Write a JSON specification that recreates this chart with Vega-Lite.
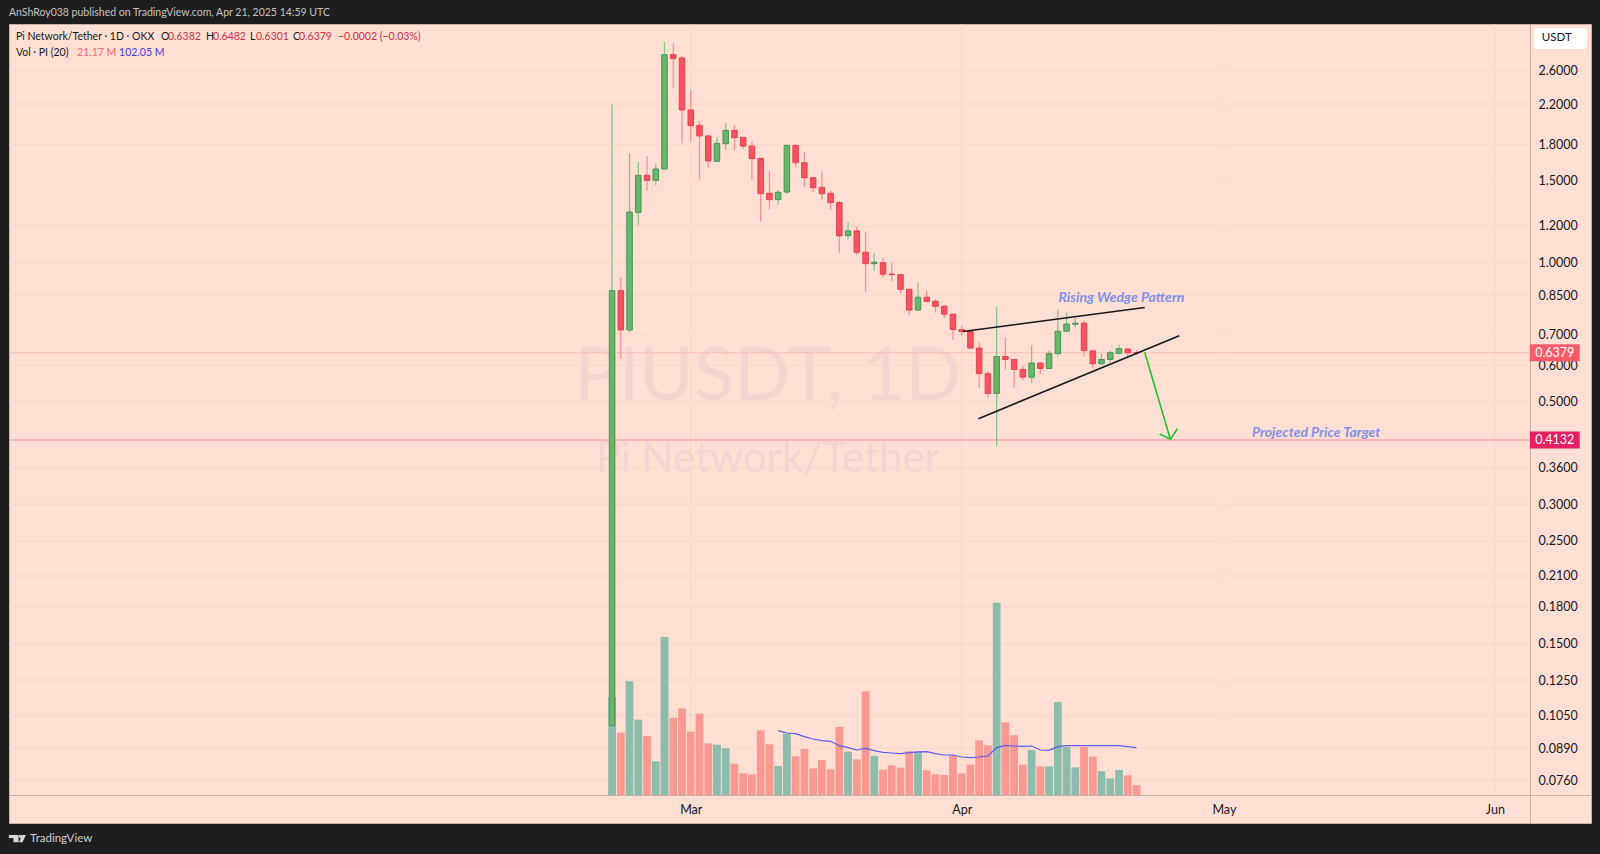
{
  "$schema": "https://vega.github.io/schema/vega-lite/v6.json",
  "description": "PIUSDT daily candles with volume, rising wedge and projected target",
  "autosize": "none",
  "padding": {"left": 9, "top": 24, "right": 9, "bottom": 31},
  "width": 1582,
  "height": 799,
  "background": "#1e1e1e",
  "config": {
    "font": "Lato",
    "view": {"fill": "#ffdfd3", "stroke": "#c9b0a5"}
  },
  "datasets": {
    "candles": [
      {"date": "2025-02-20", "open": 0.0997, "high": 2.201, "low": 0.0997, "close": 0.869, "vol": 211.4},
      {"date": "2025-02-21", "open": 0.869, "high": 0.929, "low": 0.619, "close": 0.7146, "vol": 134.5},
      {"date": "2025-02-22", "open": 0.7146, "high": 1.722, "low": 0.705, "close": 1.285, "vol": 245.2},
      {"date": "2025-02-23", "open": 1.283, "high": 1.649, "low": 1.205, "close": 1.543, "vol": 162.5},
      {"date": "2025-02-24", "open": 1.543, "high": 1.699, "low": 1.427, "close": 1.505, "vol": 127.3},
      {"date": "2025-02-25", "open": 1.505, "high": 1.63, "low": 1.468, "close": 1.592, "vol": 72.6},
      {"date": "2025-02-26", "open": 1.592, "high": 3.001, "low": 1.592, "close": 2.813, "vol": 340.8},
      {"date": "2025-02-27", "open": 2.813, "high": 2.976, "low": 2.379, "close": 2.758, "vol": 166.8},
      {"date": "2025-02-28", "open": 2.767, "high": 2.795, "low": 1.809, "close": 2.136, "vol": 186.9},
      {"date": "2025-03-01", "open": 2.136, "high": 2.356, "low": 1.827, "close": 1.975, "vol": 136.6},
      {"date": "2025-03-02", "open": 1.979, "high": 2.022, "low": 1.512, "close": 1.877, "vol": 175.4},
      {"date": "2025-03-03", "open": 1.877, "high": 1.883, "low": 1.603, "close": 1.657, "vol": 111.4},
      {"date": "2025-03-04", "open": 1.654, "high": 1.864, "low": 1.654, "close": 1.809, "vol": 108.6},
      {"date": "2025-03-05", "open": 1.806, "high": 2.002, "low": 1.753, "close": 1.93, "vol": 100.7},
      {"date": "2025-03-06", "open": 1.93, "high": 1.982, "low": 1.75, "close": 1.861, "vol": 67.6},
      {"date": "2025-03-07", "open": 1.864, "high": 1.864, "low": 1.759, "close": 1.785, "vol": 46.7},
      {"date": "2025-03-08", "open": 1.785, "high": 1.827, "low": 1.512, "close": 1.676, "vol": 44.6},
      {"date": "2025-03-09", "open": 1.679, "high": 1.679, "low": 1.229, "close": 1.408, "vol": 139.5},
      {"date": "2025-03-10", "open": 1.411, "high": 1.574, "low": 1.302, "close": 1.367, "vol": 109.3},
      {"date": "2025-03-11", "open": 1.367, "high": 1.434, "low": 1.333, "close": 1.418, "vol": 62.6, "ma": 138.8},
      {"date": "2025-03-12", "open": 1.42, "high": 1.791, "low": 1.406, "close": 1.791, "vol": 132.3, "ma": 133.7},
      {"date": "2025-03-13", "open": 1.791, "high": 1.791, "low": 1.603, "close": 1.643, "vol": 83.4, "ma": 132.3},
      {"date": "2025-03-14", "open": 1.643, "high": 1.73, "low": 1.458, "close": 1.525, "vol": 99.2, "ma": 125.8},
      {"date": "2025-03-15", "open": 1.525, "high": 1.525, "low": 1.42, "close": 1.451, "vol": 57.5, "ma": 120.8},
      {"date": "2025-03-16", "open": 1.453, "high": 1.574, "low": 1.367, "close": 1.408, "vol": 75.5, "ma": 117.2},
      {"date": "2025-03-17", "open": 1.411, "high": 1.43, "low": 1.302, "close": 1.347, "vol": 55.4, "ma": 115.8},
      {"date": "2025-03-18", "open": 1.347, "high": 1.356, "low": 1.05, "close": 1.141, "vol": 146.7, "ma": 106.4},
      {"date": "2025-03-19", "open": 1.143, "high": 1.221, "low": 1.122, "close": 1.17, "vol": 93.5, "ma": 102.1},
      {"date": "2025-03-20", "open": 1.17, "high": 1.195, "low": 1.038, "close": 1.052, "vol": 76.9, "ma": 97.1},
      {"date": "2025-03-21", "open": 1.052, "high": 1.166, "low": 0.861, "close": 0.994, "vol": 223.6, "ma": 100.7},
      {"date": "2025-03-22", "open": 0.994, "high": 1.047, "low": 0.959, "close": 1.001, "vol": 84.1, "ma": 95.6},
      {"date": "2025-03-23", "open": 0.999, "high": 1.021, "low": 0.927, "close": 0.943, "vol": 54.6, "ma": 92.0},
      {"date": "2025-03-24", "open": 0.944, "high": 1.0, "low": 0.909, "close": 0.941, "vol": 64.0, "ma": 90.6},
      {"date": "2025-03-25", "open": 0.941, "high": 0.944, "low": 0.855, "close": 0.875, "vol": 59.0, "ma": 89.2},
      {"date": "2025-03-26", "open": 0.875, "high": 0.876, "low": 0.77, "close": 0.789, "vol": 94.2, "ma": 91.3},
      {"date": "2025-03-27", "open": 0.789, "high": 0.906, "low": 0.787, "close": 0.841, "vol": 92.8, "ma": 92.8},
      {"date": "2025-03-28", "open": 0.841, "high": 0.869, "low": 0.819, "close": 0.824, "vol": 53.2, "ma": 93.5},
      {"date": "2025-03-29", "open": 0.824, "high": 0.833, "low": 0.779, "close": 0.804, "vol": 44.6, "ma": 89.2},
      {"date": "2025-03-30", "open": 0.804, "high": 0.808, "low": 0.758, "close": 0.773, "vol": 43.1, "ma": 86.3},
      {"date": "2025-03-31", "open": 0.773, "high": 0.774, "low": 0.68, "close": 0.716, "vol": 85.6, "ma": 86.3},
      {"date": "2025-04-01", "open": 0.716, "high": 0.73, "low": 0.694, "close": 0.709, "vol": 46.7, "ma": 82.0},
      {"date": "2025-04-02", "open": 0.709, "high": 0.715, "low": 0.651, "close": 0.653, "vol": 65.4, "ma": 80.5},
      {"date": "2025-04-03", "open": 0.653, "high": 0.672, "low": 0.535, "close": 0.575, "vol": 117.9, "ma": 82.0},
      {"date": "2025-04-04", "open": 0.575, "high": 0.582, "low": 0.51, "close": 0.521, "vol": 107.1, "ma": 84.1},
      {"date": "2025-04-05", "open": 0.521, "high": 0.8, "low": 0.4, "close": 0.626, "vol": 414.9, "ma": 102.1},
      {"date": "2025-04-06", "open": 0.626, "high": 0.689, "low": 0.586, "close": 0.617, "vol": 156.7, "ma": 107.1},
      {"date": "2025-04-07", "open": 0.617, "high": 0.617, "low": 0.536, "close": 0.587, "vol": 128.7, "ma": 105.7},
      {"date": "2025-04-08", "open": 0.587, "high": 0.597, "low": 0.555, "close": 0.565, "vol": 65.4, "ma": 105.0},
      {"date": "2025-04-09", "open": 0.565, "high": 0.662, "low": 0.548, "close": 0.606, "vol": 97.1, "ma": 105.7},
      {"date": "2025-04-10", "open": 0.606, "high": 0.61, "low": 0.574, "close": 0.59, "vol": 61.8, "ma": 97.1},
      {"date": "2025-04-11", "open": 0.59, "high": 0.645, "low": 0.588, "close": 0.635, "vol": 61.8, "ma": 96.3},
      {"date": "2025-04-12", "open": 0.635, "high": 0.789, "low": 0.626, "close": 0.71, "vol": 200.6, "ma": 104.3},
      {"date": "2025-04-13", "open": 0.71, "high": 0.779, "low": 0.709, "close": 0.736, "vol": 103.5, "ma": 106.4},
      {"date": "2025-04-14", "open": 0.735, "high": 0.758, "low": 0.724, "close": 0.739, "vol": 59.7, "ma": 106.4},
      {"date": "2025-04-15", "open": 0.739, "high": 0.749, "low": 0.626, "close": 0.645, "vol": 103.5, "ma": 106.4},
      {"date": "2025-04-16", "open": 0.644, "high": 0.645, "low": 0.59, "close": 0.604, "vol": 82.7, "ma": 106.4},
      {"date": "2025-04-17", "open": 0.604, "high": 0.635, "low": 0.602, "close": 0.617, "vol": 51.0, "ma": 106.4},
      {"date": "2025-04-18", "open": 0.617, "high": 0.645, "low": 0.607, "close": 0.638, "vol": 36.0, "ma": 106.4},
      {"date": "2025-04-19", "open": 0.636, "high": 0.664, "low": 0.634, "close": 0.651, "vol": 53.9, "ma": 106.4},
      {"date": "2025-04-20", "open": 0.65, "high": 0.653, "low": 0.628, "close": 0.638, "vol": 42.4, "ma": 104.3},
      {"date": "2025-04-21", "open": 0.6382, "high": 0.6482, "low": 0.6301, "close": 0.6379, "vol": 21.17, "ma": 102.05}
    ],
    "priceTicks": [
      {"tick": 2.6}, {"tick": 2.2}, {"tick": 1.8}, {"tick": 1.5}, {"tick": 1.2},
      {"tick": 1.0}, {"tick": 0.85}, {"tick": 0.7}, {"tick": 0.6}, {"tick": 0.5},
      {"tick": 0.36}, {"tick": 0.3}, {"tick": 0.25}, {"tick": 0.21}, {"tick": 0.18},
      {"tick": 0.15}, {"tick": 0.125}, {"tick": 0.105}, {"tick": 0.089}, {"tick": 0.076}
    ],
    "months": [
      {"date": "2025-03-01"}, {"date": "2025-04-01"}, {"date": "2025-05-01"}, {"date": "2025-06-01"}
    ],
    "drawings": [
      {"shape": "wedgeTop", "step": 1, "date": "2025-04-01T03:30:00Z", "price": 0.709},
      {"shape": "wedgeTop", "step": 2, "date": "2025-04-21T22:30:00Z", "price": 0.799},
      {"shape": "wedgeBottom", "step": 1, "date": "2025-04-02T22:00:00Z", "price": 0.4594},
      {"shape": "wedgeBottom", "step": 2, "date": "2025-04-25T21:30:00Z", "price": 0.6945}
    ],
    "arrow": [
      {"step": 1, "date": "2025-04-21T22:30:00Z", "price": 0.6393},
      {"step": 2, "date": "2025-04-24T21:00:00Z", "price": 0.4147},
      {"step": 3, "date": "2025-04-23T15:40:00Z", "price": 0.4258},
      {"step": 4, "date": "2025-04-24T21:00:00Z", "price": 0.4147},
      {"step": 5, "date": "2025-04-25T16:20:00Z", "price": 0.437}
    ]
  },
  "resolve": {"scale": {"y": "independent"}},
  "layer": [
    {
      "layer": [
        {
          "data": {"name": "priceTicks"},
          "mark": {"type": "rule", "color": "#f8d6ca", "strokeWidth": 1},
          "encoding": {
            "y": {"field": "tick", "type": "quantitative", "axis": null, "scale": {"type": "log", "domain": [0.0614, 3.277], "nice": false, "zero": false}},
            "x": {"datum": {"year": 2024, "month": 12, "date": 13, "utc": true}, "type": "temporal"},
            "x2": {"datum": {"year": 2025, "month": 6, "date": 5, "utc": true}}
          }
        },
        {
          "data": {"name": "months"},
          "mark": {"type": "rule", "color": "#f8d6ca", "strokeWidth": 1},
          "encoding": {
            "x": {"field": "date", "type": "temporal"},
            "y": {"datum": 3.277, "type": "quantitative", "axis": null},
            "y2": {"datum": 0.0705}
          }
        },
        {
          "data": {"values": [{}]},
          "mark": {"type": "text", "fontSize": 74, "color": "#f5d4cf", "align": "center", "baseline": "alphabetic"},
          "encoding": {
            "x": {"datum": {"year": 2025, "month": 3, "date": 9, "hours": 19, "minutes": 30, "utc": true}, "type": "temporal"},
            "y": {"datum": 0.5044, "type": "quantitative", "axis": null},
            "text": {"value": "PIUSDT, 1D"}
          }
        },
        {
          "data": {"values": [{}]},
          "mark": {"type": "text", "fontSize": 42, "color": "#f5d4cf", "align": "center", "baseline": "alphabetic"},
          "encoding": {
            "x": {"datum": {"year": 2025, "month": 3, "date": 9, "hours": 19, "minutes": 30, "utc": true}, "type": "temporal"},
            "y": {"datum": 0.3523, "type": "quantitative", "axis": null},
            "text": {"value": "Pi Network/Tether"}
          }
        }
      ]
    },
    {
      "data": {"name": "candles"},
      "encoding": {
        "x": {"field": "date", "type": "temporal"},
        "y": {"type": "quantitative", "axis": null, "scale": {"domain": [-60.4, 1663], "nice": false, "zero": false}}
      },
      "layer": [
        {
          "mark": {"type": "bar", "size": 7.8},
          "encoding": {
            "y": {"field": "vol", "type": "quantitative", "stack": null, "axis": null},
            "color": {"condition": {"test": "datum.close > datum.open", "value": "#8cbcac"}, "value": "#f99a92"}
          }
        },
        {
          "mark": {"type": "line", "color": "#5b5bf0", "strokeWidth": 1.2},
          "encoding": {
            "y": {"field": "ma", "type": "quantitative", "axis": null}
          }
        }
      ]
    },
    {
      "layer": [
        {
          "data": {"values": [{"price": 0.6379}]},
          "mark": {"type": "rule", "color": "#f8bcb6", "strokeWidth": 1},
          "encoding": {
            "x": {"datum": {"year": 2024, "month": 12, "date": 13, "utc": true}, "type": "temporal"},
            "x2": {"datum": {"year": 2025, "month": 6, "date": 5, "utc": true}},
            "y": {"field": "price", "type": "quantitative"}
          }
        },
        {
          "data": {"values": [{"price": 0.4132}]},
          "mark": {"type": "rule", "color": "#f98ca0", "strokeWidth": 1},
          "encoding": {
            "x": {"datum": {"year": 2024, "month": 12, "date": 13, "utc": true}, "type": "temporal"},
            "x2": {"datum": {"year": 2025, "month": 6, "date": 5, "utc": true}},
            "y": {"field": "price", "type": "quantitative"}
          }
        },
        {
          "data": {"name": "candles"},
          "mark": {"type": "rule", "strokeWidth": 1.3},
          "encoding": {
            "x": {
              "field": "date",
              "type": "temporal",
              "title": null,
              "scale": {
                "type": "utc",
                "domain": [
                  {"year": 2024, "month": 12, "date": 13, "utc": true},
                  {"year": 2025, "month": 6, "date": 12, "utc": true}
                ],
                "nice": false,
                "padding": 0
              },
              "axis": {
                "orient": "bottom",
                "offset": -28,
                "grid": false,
                "ticks": false,
                "values": [
                  {"year": 2025, "month": 3, "date": 1, "utc": true},
                  {"year": 2025, "month": 4, "date": 1, "utc": true},
                  {"year": 2025, "month": 5, "date": 1, "utc": true},
                  {"year": 2025, "month": 6, "date": 1, "utc": true}
                ],
                "format": "%b",
                "labelFontSize": 12.5,
                "labelColor": "#131722",
                "labelPadding": 8,
                "domainColor": "#c9b0a5"
              }
            },
            "y": {
              "field": "high",
              "type": "quantitative",
              "title": null,
              "scale": {"type": "log", "domain": [0.0614, 3.277], "nice": false, "zero": false},
              "axis": {
                "orient": "right",
                "offset": -61,
                "grid": false,
                "ticks": false,
                "values": [2.6, 2.2, 1.8, 1.5, 1.2, 1.0, 0.85, 0.7, 0.6, 0.5, 0.36, 0.3, 0.25, 0.21, 0.18, 0.15, 0.125, 0.105, 0.089, 0.076],
                "format": ".4f",
                "labelFontSize": 12.5,
                "labelColor": "#131722",
                "labelPadding": 8,
                "labelOverlap": false,
                "domainColor": "#c9b0a5"
              }
            },
            "y2": {"field": "low"},
            "color": {"condition": {"test": "datum.close > datum.open", "value": "#85c488"}, "value": "#fa9096"}
          }
        },
        {
          "data": {"name": "candles"},
          "mark": {"type": "bar", "size": 5.5, "strokeWidth": 1},
          "encoding": {
            "x": {"field": "date", "type": "temporal"},
            "y": {"field": "open", "type": "quantitative"},
            "y2": {"field": "close"},
            "color": {"condition": {"test": "datum.close > datum.open", "value": "#66b76a"}, "value": "#f7525f"},
            "stroke": {"condition": {"test": "datum.close > datum.open", "value": "#439650"}, "value": "#e5434f"}
          }
        },
        {
          "data": {"name": "drawings"},
          "mark": {"type": "line", "color": "#131722", "strokeWidth": 1.6},
          "encoding": {
            "x": {"field": "date", "type": "temporal"},
            "y": {"field": "price", "type": "quantitative"},
            "detail": {"field": "shape"},
            "order": {"field": "step"}
          }
        },
        {
          "data": {"name": "arrow"},
          "mark": {"type": "line", "color": "#22c02c", "strokeWidth": 1.6},
          "encoding": {
            "x": {"field": "date", "type": "temporal"},
            "y": {"field": "price", "type": "quantitative"},
            "order": {"field": "step"}
          }
        },
        {
          "data": {"values": [{"label": "Rising Wedge Pattern", "date": "2025-04-12T02:00:00Z", "price": 0.838}, {"label": "Projected Price Target", "date": "2025-05-04T05:00:00Z", "price": 0.428}]},
          "mark": {"type": "text", "align": "left", "fontSize": 14, "fontStyle": "italic", "fontWeight": 700, "color": "#7d90ea"},
          "encoding": {
            "x": {"field": "date", "type": "temporal"},
            "y": {"field": "price", "type": "quantitative"},
            "text": {"field": "label"}
          }
        },
        {
          "data": {"values": [{"price": 0.6379}]},
          "mark": {"type": "rule", "color": "#fb5a6a", "size": 17},
          "encoding": {
            "x": {"datum": {"year": 2025, "month": 6, "date": 5, "utc": true}, "type": "temporal"},
            "x2": {"datum": {"year": 2025, "month": 6, "date": 10, "hours": 17, "utc": true}},
            "y": {"field": "price", "type": "quantitative"}
          }
        },
        {
          "data": {"values": [{"price": 0.4132}]},
          "mark": {"type": "rule", "color": "#e91e63", "size": 17},
          "encoding": {
            "x": {"datum": {"year": 2025, "month": 6, "date": 5, "utc": true}, "type": "temporal"},
            "x2": {"datum": {"year": 2025, "month": 6, "date": 10, "hours": 17, "utc": true}},
            "y": {"field": "price", "type": "quantitative"}
          }
        },
        {
          "data": {"values": [{"label": "0.6379", "price": 0.6379}, {"label": "0.4132", "price": 0.4132}]},
          "mark": {"type": "text", "align": "center", "fontSize": 12.5, "color": "#ffffff"},
          "encoding": {
            "x": {"datum": {"year": 2025, "month": 6, "date": 7, "hours": 20, "minutes": 30, "utc": true}, "type": "temporal"},
            "y": {"field": "price", "type": "quantitative"},
            "text": {"field": "label"}
          }
        },
        {
          "data": {"values": [{}]},
          "mark": {"type": "rect", "color": "#ffffff", "cornerRadius": 3},
          "encoding": {
            "x": {"datum": {"year": 2025, "month": 6, "date": 5, "hours": 11, "utc": true}, "type": "temporal"},
            "x2": {"datum": {"year": 2025, "month": 6, "date": 11, "hours": 12, "utc": true}},
            "y": {"datum": 3.213, "type": "quantitative"},
            "y2": {"datum": 2.894}
          }
        },
        {
          "data": {"values": [{}]},
          "mark": {"type": "text", "align": "left", "fontSize": 11.5, "color": "#131722"},
          "encoding": {
            "x": {"datum": {"year": 2025, "month": 6, "date": 6, "hours": 9, "utc": true}, "type": "temporal"},
            "y": {"datum": 3.049, "type": "quantitative"},
            "text": {"value": "USDT"}
          }
        },
        {
          "data": {"values": [{}]},
          "encoding": {"y": {"datum": 3.072, "type": "quantitative"}},
          "layer": [
            {"mark": {"type": "text", "align": "left", "fontSize": 10.5, "color": "#131722"}, "encoding": {"x": {"datum": {"year": 2024, "month": 12, "date": 13, "hours": 19, "utc": true}, "type": "temporal"}, "text": {"value": "Pi Network/Tether · 1D · OKX"}}},
            {"mark": {"type": "text", "align": "left", "fontSize": 10.5, "color": "#131722"}, "encoding": {"x": {"datum": {"year": 2024, "month": 12, "date": 30, "hours": 9, "minutes": 30, "utc": true}, "type": "temporal"}, "text": {"value": "O"}}},
            {"mark": {"type": "text", "align": "left", "fontSize": 10.5, "color": "#c9303e"}, "encoding": {"x": {"datum": {"year": 2024, "month": 12, "date": 31, "hours": 4, "minutes": 30, "utc": true}, "type": "temporal"}, "text": {"value": "0.6382"}}},
            {"mark": {"type": "text", "align": "left", "fontSize": 10.5, "color": "#131722"}, "encoding": {"x": {"datum": {"year": 2025, "month": 1, "date": 4, "hours": 13, "utc": true}, "type": "temporal"}, "text": {"value": "H"}}},
            {"mark": {"type": "text", "align": "left", "fontSize": 10.5, "color": "#c9303e"}, "encoding": {"x": {"datum": {"year": 2025, "month": 1, "date": 5, "hours": 8, "minutes": 10, "utc": true}, "type": "temporal"}, "text": {"value": "0.6482"}}},
            {"mark": {"type": "text", "align": "left", "fontSize": 10.5, "color": "#131722"}, "encoding": {"x": {"datum": {"year": 2025, "month": 1, "date": 9, "hours": 13, "minutes": 40, "utc": true}, "type": "temporal"}, "text": {"value": "L"}}},
            {"mark": {"type": "text", "align": "left", "fontSize": 10.5, "color": "#c9303e"}, "encoding": {"x": {"datum": {"year": 2025, "month": 1, "date": 10, "hours": 6, "minutes": 15, "utc": true}, "type": "temporal"}, "text": {"value": "0.6301"}}},
            {"mark": {"type": "text", "align": "left", "fontSize": 10.5, "color": "#131722"}, "encoding": {"x": {"datum": {"year": 2025, "month": 1, "date": 14, "hours": 12, "utc": true}, "type": "temporal"}, "text": {"value": "C"}}},
            {"mark": {"type": "text", "align": "left", "fontSize": 10.5, "color": "#c9303e"}, "encoding": {"x": {"datum": {"year": 2025, "month": 1, "date": 15, "hours": 4, "minutes": 20, "utc": true}, "type": "temporal"}, "text": {"value": "0.6379"}}},
            {"mark": {"type": "text", "align": "left", "fontSize": 10.5, "color": "#c9303e"}, "encoding": {"x": {"datum": {"year": 2025, "month": 1, "date": 19, "hours": 15, "minutes": 20, "utc": true}, "type": "temporal"}, "text": {"value": "−0.0002 (−0.03%)"}}}
          ]
        },
        {
          "data": {"values": [{}]},
          "encoding": {"y": {"datum": 2.837, "type": "quantitative"}},
          "layer": [
            {"mark": {"type": "text", "align": "left", "fontSize": 10.5, "color": "#131722"}, "encoding": {"x": {"datum": {"year": 2024, "month": 12, "date": 13, "hours": 19, "utc": true}, "type": "temporal"}, "text": {"value": "Vol · PI (20)"}}},
            {"mark": {"type": "text", "align": "left", "fontSize": 10.5, "color": "#f7646c"}, "encoding": {"x": {"datum": {"year": 2024, "month": 12, "date": 20, "hours": 18, "minutes": 40, "utc": true}, "type": "temporal"}, "text": {"value": "21.17 M"}}},
            {"mark": {"type": "text", "align": "left", "fontSize": 10.5, "color": "#3e3ee0"}, "encoding": {"x": {"datum": {"year": 2024, "month": 12, "date": 25, "hours": 14, "minutes": 10, "utc": true}, "type": "temporal"}, "text": {"value": "102.05 M"}}}
          ]
        },
        {
          "data": {"values": [{}]},
          "mark": {"type": "text", "align": "left", "fontSize": 10.5, "color": "#c4c4c4"},
          "encoding": {
            "x": {"datum": {"year": 2024, "month": 12, "date": 13, "utc": true}, "type": "temporal"},
            "y": {"datum": 3.461, "type": "quantitative"},
            "text": {"value": "AnShRoy038 published on TradingView.com, Apr 21, 2025 14:59 UTC"}
          }
        },
        {
          "data": {"values": [{}]},
          "mark": {"type": "text", "align": "left", "fontSize": 11.5, "color": "#cfcfcf"},
          "encoding": {
            "x": {"datum": {"year": 2024, "month": 12, "date": 15, "hours": 10, "utc": true}, "type": "temporal"},
            "y": {"datum": 0.0568, "type": "quantitative"},
            "text": {"value": "TradingView"}
          }
        },
        {
          "data": {"values": [{}]},
          "mark": {
            "type": "point",
            "filled": true,
            "opacity": 1,
            "color": "#d8d8d8",
            "size": 289,
            "shape": "M-1 -.43H.14V.43H-.46V-.07H-1ZM.2 -.43H.5V-.1H.2ZM.55 -.43H1L.6 .43H.2Z"
          },
          "encoding": {
            "x": {"datum": {"year": 2024, "month": 12, "date": 13, "hours": 23, "utc": true}, "type": "temporal"},
            "y": {"datum": 0.0568, "type": "quantitative"}
          }
        }
      ]
    }
  ]
}
